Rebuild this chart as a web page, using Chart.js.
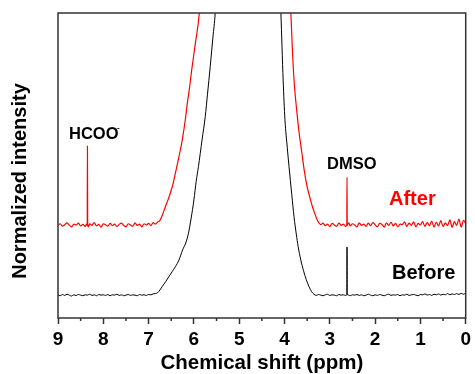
<!DOCTYPE html>
<html>
<head>
<meta charset="utf-8">
<script src="https://cdn.jsdelivr.net/npm/chart.js@4.4.0/dist/chart.umd.min.js"></script>
<style>
  body { margin: 0; background: #fff; }
  canvas { display: block; }
</style>
</head>
<body>
<canvas id="nmr" width="475" height="374"></canvas>
<script>
// x in ppm, y in normalized intensity (0 = bottom of frame, 100 = top)
var xTicks = [9, 8, 7, 6, 5, 4, 3, 2, 1, 0];
var xMinorTicks = [8.5, 7.5, 6.5, 5.5, 4.5, 3.5, 2.5, 1.5, 0.5];

var beforeShift = [
  9.00, 8.95, 8.90, 8.85, 8.80, 8.75, 8.70, 8.65, 8.60, 8.55, 8.50, 8.45, 8.40, 8.35, 8.30, 8.25,
  8.20, 8.15, 8.10, 8.05, 8.00, 7.95, 7.90, 7.85, 7.80, 7.75, 7.70, 7.65, 7.60, 7.55, 7.50, 7.45,
  7.40, 7.35, 7.30, 7.25, 7.20, 7.15, 7.10, 7.05, 7.00, 6.95, 6.90, 6.85,
  6.80, 6.75, 6.70, 6.62, 6.55, 6.48, 6.41, 6.33, 6.25, 6.18, 6.12, 6.06, 6.00, 5.95, 5.90, 5.82,
  5.75, 5.70, 5.64, 5.58, 5.53, 5.45, 5.30, 5.10, 4.90, 4.80, 4.70, 4.50, 4.30, 4.15,
  4.08, 4.03, 3.99, 3.94, 3.90, 3.84, 3.79, 3.74, 3.70, 3.64, 3.58, 3.52, 3.46, 3.40, 3.35,
  3.30, 3.25, 3.20, 3.15, 3.10, 3.05, 3.00, 2.95, 2.90, 2.85, 2.80, 2.75, 2.70, 2.65, 2.625, 2.62,
  2.615, 2.58, 2.55, 2.50, 2.45, 2.40, 2.35, 2.30, 2.25, 2.20, 2.15, 2.10, 2.05, 2.00, 1.95, 1.90,
  1.85, 1.80, 1.75, 1.70, 1.65, 1.60, 1.55, 1.50, 1.45, 1.40, 1.35, 1.30, 1.25, 1.20, 1.15, 1.10,
  1.05, 1.00, 0.95, 0.90, 0.85, 0.80, 0.75, 0.70, 0.65, 0.60, 0.55, 0.50, 0.45, 0.40, 0.35, 0.30,
  0.25, 0.20, 0.15, 0.10, 0.05, 0.00
];
var beforeIntensity = [
  7.6, 7.3, 7.7, 7.4, 7.8, 7.5, 7.2, 7.6, 7.4, 7.7, 7.5, 7.3, 7.6, 7.5, 7.8, 7.4,
  7.6, 7.3, 7.7, 7.5, 7.6, 7.4, 7.7, 7.3, 7.6, 7.5, 7.8, 7.4, 7.6, 7.3, 7.5, 7.7,
  7.4, 7.6, 7.5, 7.3, 7.7, 7.5, 7.6, 7.4, 7.7, 7.6, 7.9, 8.0,
  8.3, 9.2, 10.3, 12.0, 13.6, 15.2, 16.8, 19.0, 22.3, 24.6, 27.8, 32.8, 38.7, 44.8, 49.6, 58.4,
  66.0, 73.4, 82.4, 92.1, 100, 125, 200, 400, 800, 1000, 800, 400, 200, 125,
  100, 78.0, 65.0, 56.0, 49.6, 40.5, 33.2, 27.5, 23.5, 19.0, 15.5, 12.6, 10.3, 8.6, 7.8,
  7.4, 7.7, 7.5, 7.3, 7.6, 7.8, 7.4, 7.6, 7.5, 7.3, 7.7, 7.5, 7.6, 7.4, 7.6, 23.3,
  7.7, 7.5, 7.3, 7.6, 7.5, 7.7, 7.4, 7.6, 7.3, 7.5, 7.8, 7.5, 7.3, 7.6, 7.4, 7.7,
  7.5, 7.3, 7.6, 7.8, 7.4, 7.6, 7.5, 7.7, 7.3, 7.6, 7.5, 7.8, 7.4, 7.6, 7.7, 7.5,
  7.3, 7.7, 7.6, 7.9, 7.5, 7.7, 7.4, 7.8, 7.6, 7.9, 7.5, 7.8, 7.6, 8.0, 7.6, 7.9,
  7.7, 8.0, 7.7, 8.1, 7.8, 8.2
];

var afterShift = [
  9.00, 8.95, 8.90, 8.85, 8.80, 8.75, 8.70, 8.65, 8.60, 8.55, 8.50, 8.45, 8.40, 8.37, 8.355, 8.35,
  8.345, 8.33, 8.30, 8.25, 8.20, 8.15, 8.10, 8.05, 8.00, 7.95, 7.90, 7.85, 7.80, 7.75, 7.70, 7.65,
  7.60, 7.55, 7.50, 7.45, 7.40, 7.35, 7.30, 7.25, 7.20, 7.15, 7.10, 7.05, 7.00, 6.95, 6.90, 6.85,
  6.80,
  6.75, 6.70, 6.63, 6.57, 6.52, 6.46, 6.41, 6.35, 6.30, 6.25, 6.19, 6.14, 6.10, 6.05, 5.97, 5.88,
  5.75, 5.55, 5.30, 5.00, 4.80, 4.50, 4.20, 4.00, 3.90,
  3.86, 3.82, 3.78, 3.73, 3.68, 3.62, 3.56, 3.50, 3.44, 3.38, 3.32, 3.28, 3.24,
  3.20, 3.15, 3.10, 3.05, 3.00, 2.95, 2.90, 2.85, 2.80, 2.75, 2.70, 2.65, 2.625, 2.62, 2.615, 2.58,
  2.55, 2.50, 2.45, 2.40, 2.35, 2.30, 2.25, 2.20, 2.15, 2.10, 2.05, 2.00, 1.95, 1.90, 1.85, 1.80,
  1.75, 1.70, 1.65, 1.60, 1.55, 1.50, 1.45, 1.40, 1.35, 1.30, 1.25, 1.20, 1.15, 1.10, 1.05, 1.00,
  0.95, 0.90, 0.85, 0.80, 0.75, 0.70, 0.65, 0.60, 0.55, 0.50, 0.45, 0.40, 0.35, 0.30, 0.25, 0.20,
  0.15, 0.10, 0.05, 0.00
];
var afterIntensity = [
  30.3, 30.9, 30.1, 30.6, 31.2, 30.4, 29.9, 30.8, 30.5, 31.1, 30.2, 30.7, 30.0, 30.8, 30.4, 56.4,
  30.6, 29.9, 30.9, 30.4, 31.3, 30.2, 30.7, 29.8, 30.9, 30.6, 30.1, 31.0, 30.3, 30.8, 30.0, 30.7,
  31.1, 30.3, 29.9, 30.9, 30.5, 30.1, 31.2, 30.4, 30.8, 29.9, 30.9, 30.5, 31.0, 30.3, 31.3, 30.8,
  31.5,
  32.0, 33.6, 36.5, 38.8, 41.0, 44.0, 47.4, 51.5, 55.0, 59.0, 65.0, 71.0, 75.1, 81.2, 89.8, 100,
  130, 220, 450, 900, 1000, 900, 450, 200, 120,
  100, 86.0, 76.0, 68.0, 61.0, 54.5, 48.0, 43.0, 39.5, 36.3, 33.8, 32.2, 31.2,
  30.6, 31.1, 30.3, 30.8, 30.0, 31.0, 30.5, 30.1, 31.1, 30.4, 30.8, 30.0, 30.6, 46.2, 30.4, 31.2,
  30.2, 30.9, 30.5, 29.9, 31.2, 30.4, 30.8, 30.0, 31.1, 30.3, 31.3, 30.6, 29.9, 31.0, 30.7, 29.8,
  31.2, 30.4, 31.4, 30.2, 31.0, 29.9, 30.8, 30.6, 31.5, 30.0, 31.1, 30.4, 31.5, 29.9, 31.0, 30.5,
  31.6, 30.0, 31.3, 30.3, 31.8, 29.8, 31.4, 30.2, 31.9, 30.0, 31.2, 30.3, 32.2, 29.7, 31.6, 30.4,
  32.4, 29.8, 32.0, 31.0
];

function toPoints(xs, ys) {
  var pts = [];
  for (var i = 0; i < xs.length; i++) pts.push({ x: xs[i], y: ys[i] });
  return pts;
}

var FONT = "'Liberation Sans', Arial, sans-serif";

// frame, minor ticks and text labels
var extras = {
  id: 'extras',
  afterDraw: function (chart) {
    var c = chart.ctx, a = chart.chartArea, xs = chart.scales.x;
    c.save();
    c.strokeStyle = '#333';
    c.lineWidth = 1.5;
    c.strokeRect(a.left, a.top, a.right - a.left, a.bottom - a.top);
    c.beginPath();
    xMinorTicks.forEach(function (v) {
      var px = xs.getPixelForValue(v);
      c.moveTo(px, a.bottom);
      c.lineTo(px, a.bottom + 3);
    });
    c.stroke();

    c.fillStyle = '#000';
    c.textBaseline = 'alphabetic';
    c.textAlign = 'left';
    c.font = 'bold 16.5px ' + FONT;
    c.fillText('HCOO', 69, 138.5);
    c.font = 'bold 8px ' + FONT;
    c.fillText('-', 117, 130);
    c.font = 'bold 16.5px ' + FONT;
    c.fillText('DMSO', 327, 168.5);

    c.font = 'bold 20px ' + FONT;
    c.fillStyle = '#ff0000';
    c.fillText('After', 389, 205);
    c.fillStyle = '#000';
    c.fillText('Before', 392, 278.5);

    c.textAlign = 'center';
    c.font = 'bold 20.5px ' + FONT;
    c.fillText('Chemical shift (ppm)', (a.left + a.right) / 2, 369);

    c.font = 'bold 20px ' + FONT;
    c.translate(26, 181);
    c.rotate(-Math.PI / 2);
    c.fillText('Normalized intensity', 0, 0);
    c.restore();
  }
};

new Chart(document.getElementById('nmr'), {
  type: 'scatter',
  data: {
    datasets: [
      {
        label: 'Before',
        data: toPoints(beforeShift, beforeIntensity),
        showLine: true,
        cubicInterpolationMode: 'monotone',
        borderColor: '#000000',
        borderWidth: 1,
        pointRadius: 0
      },
      {
        label: 'After',
        data: toPoints(afterShift, afterIntensity),
        showLine: true,
        cubicInterpolationMode: 'monotone',
        borderColor: '#ff0000',
        borderWidth: 1.2,
        pointRadius: 0
      }
    ]
  },
  options: {
    responsive: false,
    animation: false,
    layout: { padding: { top: 13, right: 5, left: 0, bottom: 0 } },
    plugins: { legend: { display: false }, tooltip: { enabled: false } },
    scales: {
      x: {
        type: 'linear',
        reverse: true,
        min: 0,
        max: 9,
        afterBuildTicks: function (s) {
          s.ticks = xTicks.map(function (v) { return { value: v }; });
        },
        ticks: {
          color: '#000',
          padding: 4,
          font: { family: FONT, size: 19, weight: 'bold' }
        },
        grid: { drawOnChartArea: false, tickLength: 6, tickWidth: 1.5, tickColor: '#333' },
        border: { display: false },
        afterFit: function (s) { s.height = 56; }
      },
      y: {
        min: 0,
        max: 100,
        ticks: { display: false },
        grid: { display: false },
        border: { display: false },
        afterFit: function (s) { s.width = 58; }
      }
    }
  },
  plugins: [extras]
});
</script>
</body>
</html>
